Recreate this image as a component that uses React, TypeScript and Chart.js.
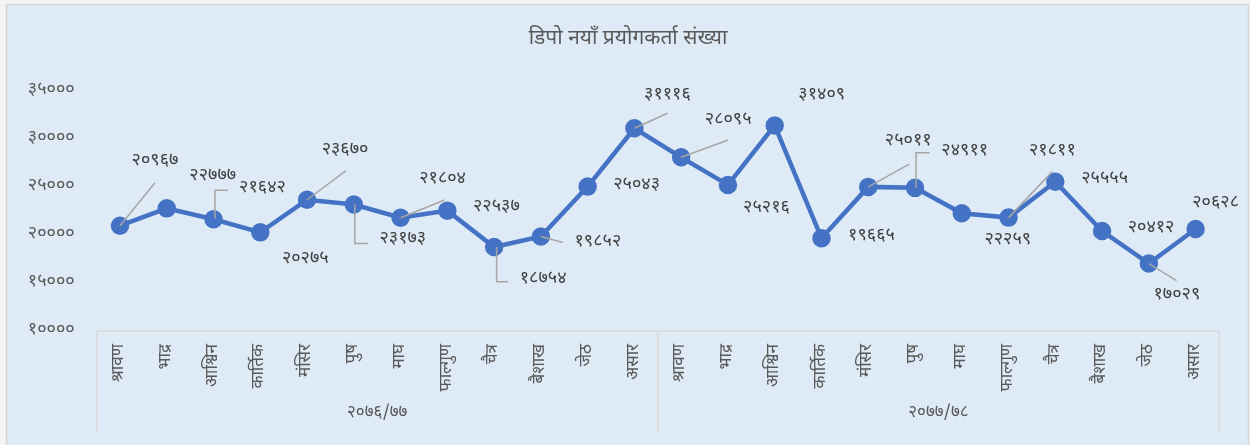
import React, { useEffect, useRef } from 'react';
import { Chart, registerables } from 'chart.js';

Chart.register(...registerables);

// ---------- data ----------
const chartTitle = 'डिपो नयाँ प्रयोगकर्ता संख्या';
const months = ['श्रावण', 'भाद्र', 'आश्विन', 'कार्तिक', 'मंसिर', 'पुष', 'माघ', 'फाल्गुण', 'चैत्र', 'बैशाख', 'जेठ', 'असार'];
const fiscalYears = ['२०७६/७७', '२०७७/७८'];
const users7677 = [20967, 22777, 21642, 20275, 23670, 23173, 21804, 22537, 18754, 19852, 25043, 31116];
const users7778 = [28095, 25216, 31409, 19665, 25011, 24911, 22259, 21811, 25555, 20412, 17029, 20628];
const yMin = 10000;
const yMax = 35000;
const yStep = 5000;

// ---------- label layout (text centre offset from point, leader polyline offsets) ----------
const labelOffsets: [number, number][] = [
  [35, -64], [46, -32], [49, -31], [45, 27], [38, -49], [49, 35.5], [42, -38], [49, -3],
  [49, 33], [57, 6], [49, -0.6], [33, -33],
  [47, -36.6], [38.5, 23.4], [47, -29.5], [50, -2], [40, -45], [49.7, -36.2], [46, 27.7], [43.8, -66],
  [49.3, -1.7], [49, -2], [28, 32], [20, -25],
];
const leaders: ([number, number][] | null)[] = [
  [[0, 0], [35, -43]], null, [[1.5, -1], [1.5, -29], [14.5, -29]], null, [[0, 0], [38.6, -28.8]],
  [[1, 0], [1, 39], [14.4, 39]], [[0, 0], [44, -17.7]], null, [[2.5, 0], [2.5, 34.7], [14, 34.7]],
  [[0, 0], [22, 6]], null, [[0, 0], [33, -15]],
  [[0, 0], [47, -17.3]], null, null, null, [[0, 0], [41, -22.7]], [[1, 0], [1, -35.2], [14.7, -35.2]],
  null, [[0, 0], [43.8, -46]], null, null, [[0, 0], [27.7, 17]], null,
];

const FONT = "'Noto Sans Devanagari', 'Nirmala UI', Mangal, 'Lohit Devanagari', 'Noto Sans', sans-serif";
const DEV_DIGITS = '०१२३४५६७८९';
const toDev = (v: number | string) => String(v).replace(/[0-9]/g, (d) => DEV_DIGITS[Number(d)]);

const pagePlugin = {
  id: 'pageBg',
  beforeDraw(chart: any) {
    const { ctx, width, height } = chart;
    ctx.save();
    ctx.fillStyle = '#f3f3f3';
    ctx.fillRect(0, 0, width, height);
    ctx.fillStyle = '#DEEAF6';
    ctx.fillRect(7, 5, 1241, height - 5);
    ctx.strokeStyle = '#d6d6d6';
    ctx.lineWidth = 1.5;
    ctx.strokeRect(6.5, 4.5, 1242, height);
    ctx.restore();
  },
};

const annotatePlugin = {
  id: 'annotate',
  afterDatasetsDraw(chart: any) {
    const { ctx } = chart;
    const meta = chart.getDatasetMeta(0);
    const values = chart.data.datasets[0].data as number[];
    ctx.save();
    meta.data.forEach((pt: any, i: number) => {
      const lead = leaders[i];
      if (lead) {
        ctx.beginPath();
        ctx.strokeStyle = '#a6a6a6';
        ctx.lineWidth = 1.5;
        lead.forEach(([dx, dy], k) => {
          if (k === 0) ctx.moveTo(pt.x + dx, pt.y + dy);
          else ctx.lineTo(pt.x + dx, pt.y + dy);
        });
        ctx.stroke();
      }
    });
    ctx.fillStyle = '#404040';
    ctx.font = `18px ${FONT}`;
    ctx.textAlign = 'center';
    ctx.textBaseline = 'middle';
    meta.data.forEach((pt: any, i: number) => {
      const [dx, dy] = labelOffsets[i];
      ctx.fillText(toDev(values[i]), pt.x + dx, pt.y + dy);
    });
    ctx.restore();
  },
  afterDraw(chart: any) {
    const { ctx, chartArea } = chart;
    const xs = chart.scales.x;
    const n = months.length;
    const half = (xs.getPixelForValue(1) - xs.getPixelForValue(0)) / 2;
    const bottom = 433;
    ctx.save();
    ctx.strokeStyle = '#d9d9d9';
    ctx.lineWidth = 1.5;
    ctx.beginPath();
    ctx.moveTo(chartArea.left, chartArea.bottom);
    ctx.lineTo(chartArea.right, chartArea.bottom);
    for (let g = 0; g <= fiscalYears.length; g++) {
      const x = g === 0 ? chartArea.left : xs.getPixelForValue(g * n - 1) + half;
      ctx.moveTo(x, chartArea.bottom);
      ctx.lineTo(x, bottom);
    }
    ctx.stroke();
    ctx.fillStyle = '#595959';
    ctx.font = `17px ${FONT}`;
    ctx.textAlign = 'center';
    ctx.textBaseline = 'middle';
    fiscalYears.forEach((fy, g) => {
      const x0 = xs.getPixelForValue(g * n) - half;
      const x1 = xs.getPixelForValue(g * n + n - 1) + half;
      ctx.fillText(fy, (x0 + x1) / 2, 414);
    });
    ctx.restore();
  },
};

export default function App() {
  const ref = useRef<HTMLCanvasElement | null>(null);
  useEffect(() => {
    document.body.style.margin = '0';
    if (!ref.current) return;
    const labels = fiscalYears.flatMap(() => months);
    const data = [...users7677, ...users7778];
    const chart = new Chart(ref.current, {
      type: 'line',
      data: {
        labels,
        datasets: [
          {
            data,
            borderColor: '#4472C4',
            backgroundColor: '#4472C4',
            borderWidth: 4.5,
            pointRadius: 7,
            pointHoverRadius: 7,
            pointBackgroundColor: '#4472C4',
            pointBorderColor: '#4472C4',
            tension: 0,
          },
        ],
      },
      options: {
        responsive: false,
        animation: false,
        events: [],
        layout: { padding: { left: 6, right: 0, top: 0, bottom: 0 } },
        plugins: {
          legend: { display: false },
          tooltip: { enabled: false },
          title: {
            display: true,
            text: chartTitle,
            color: '#595959',
            font: { family: FONT, size: 21, weight: 'normal' },
            padding: { top: 27, bottom: 38.8 },
          },
        },
        scales: {
          x: {
            type: 'category',
            offset: true,
            grid: { display: false, drawTicks: false, offset: true },
            border: { display: false },
            ticks: {
              autoSkip: false,
              minRotation: 90,
              maxRotation: 90,
              padding: 13,
              color: '#595959',
              font: { family: FONT, size: 17 },
            },
            afterFit: (s: any) => {
              s.height = 114;
            },
          },
          y: {
            min: yMin,
            max: yMax,
            grid: { display: false, drawTicks: false },
            border: { display: false },
            ticks: {
              stepSize: yStep,
              padding: 22,
              color: '#595959',
              font: { family: FONT, size: 18 },
              callback: (v: any) => toDev(v),
            },
            afterFit: (s: any) => {
              s.width = 90.6;
            },
          },
          yRight: {
            position: 'right',
            min: yMin,
            max: yMax,
            grid: { display: false, drawTicks: false },
            border: { display: false },
            ticks: { display: false },
            afterFit: (s: any) => {
              s.width = 31;
            },
          },
        },
      },
      plugins: [pagePlugin, annotatePlugin],
    });
    return () => chart.destroy();
  }, []);
  return (
    <div style={{ position: 'absolute', left: 0, top: 0, width: 1250, height: 445 }}>
      <canvas ref={ref} width={1250} height={445} />
    </div>
  );
}
